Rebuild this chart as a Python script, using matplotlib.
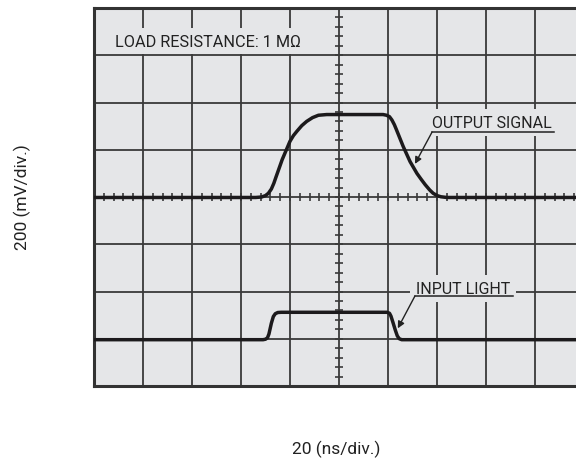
import matplotlib
matplotlib.use("Agg")
import matplotlib.pyplot as plt

# ---------- Trace data (x in time divisions, y in voltage divisions) ----------
output_x = [0.0, 3.30, 3.42, 3.50, 3.56, 3.62, 3.67, 3.71, 3.84, 4.00, 4.07,
            4.14, 4.24, 4.34, 4.46, 4.58, 4.75, 5.90, 5.97, 6.03, 6.08, 6.13,
            6.17, 6.31, 6.45, 6.59, 6.68, 6.76, 6.85, 6.92, 7.00, 7.08, 7.20, 10.5]
output_y = [3.99, 3.99, 4.00, 4.03, 4.08, 4.17, 4.29, 4.41, 4.79, 5.18, 5.30,
            5.39, 5.51, 5.60, 5.68, 5.73, 5.745, 5.745, 5.73, 5.70, 5.63, 5.53,
            5.43, 5.07, 4.75, 4.50, 4.37, 4.26, 4.15, 4.08, 4.03, 4.005, 3.99, 3.99]

input_x = [0.0, 3.45, 3.50, 3.54, 3.57, 3.62, 3.66, 3.70, 3.75, 3.82,
           5.98, 6.03, 6.06, 6.10, 6.15, 6.19, 6.23, 6.28, 10.5]
input_y = [0.98, 0.98, 0.99, 1.02, 1.10, 1.33, 1.47, 1.53, 1.555, 1.56,
           1.56, 1.54, 1.48, 1.35, 1.18, 1.06, 1.00, 0.98, 0.98]

N_XDIV, N_YDIV = 10, 8
X_LABEL = "20 (ns/div.)"
Y_LABEL = "200 (mV/div.)"
NOTE = "LOAD RESISTANCE: 1 MΩ"

BG = "#e5e6e8"
GRID = "#3a3a3a"
TRACE = "#1c1a1c"
INK = "#222222"

plt.rcParams["font.family"] = ["Roboto", "DejaVu Sans"]

fig = plt.figure(figsize=(5.76, 4.64), dpi=100)
# screen extends past the right edge of the figure
ax = fig.add_axes([94 / 576, 77 / 464, 490 / 576, 378 / 464])
ax.set_facecolor(BG)
ax.set_xlim(0, N_XDIV)
ax.set_ylim(0, N_YDIV)
ax.set_xticks(range(N_XDIV + 1))
ax.set_yticks(range(N_YDIV + 1))
ax.tick_params(length=0, labelbottom=False, labelleft=False)
ax.grid(True, color=GRID, linewidth=1.3)
for sp in ax.spines.values():
    sp.set_linewidth(2.2)
    sp.set_color("#333333")

# minor graticule ticks along the centre lines
cx, cy = N_XDIV / 2, N_YDIV / 2
sub_x = [i / 5 for i in range(N_XDIV * 5 + 1)]
sub_y = [i / 5 for i in range(N_YDIV * 5 + 1)]
ax.vlines(sub_x, cy - 0.085, cy + 0.085, color=GRID, linewidth=1.2, zorder=1)
ax.hlines(sub_y, cx - 0.08, cx + 0.08, color=GRID, linewidth=1.2, zorder=1)

ax.plot(output_x, output_y, color=TRACE, linewidth=2.5, solid_joinstyle="round",
        solid_capstyle="round", zorder=3)
ax.plot(input_x, input_y, color=TRACE, linewidth=2.5, solid_joinstyle="round",
        solid_capstyle="round", zorder=3)

box = dict(facecolor=BG, edgecolor="none", pad=4)

ax.text(0.43, 7.20, NOTE, fontsize=11.7, color=INK, va="baseline",
        ha="left", bbox=box, zorder=4)

# callout labels with underline and leader arrow
def callout(text, tx, ty, ux0, ux1, uy, tip):
    ax.text(tx, ty, text, fontsize=11.5, color=INK, ha="center",
            va="baseline", bbox=box, zorder=4)
    ax.plot([ux0, ux1], [uy, uy], color=INK, linewidth=1.1, zorder=5)
    ax.annotate("", xy=tip, xytext=(ux0, uy),
                arrowprops=dict(arrowstyle="-|>", color=INK, lw=1.0,
                                mutation_scale=10, shrinkA=0, shrinkB=0),
                zorder=5)

callout("OUTPUT SIGNAL", 8.13, 5.48, 6.90, 9.39, 5.376, (6.55, 4.70))
callout("INPUT LIGHT", 7.53, 1.97, 6.55, 8.55, 1.905, (6.20, 1.22))

fig.text(22 / 576, 1 - 197 / 464, Y_LABEL, rotation=90, fontsize=12.5,
         color=INK, ha="center", va="center")
fig.text(336 / 576, 1 - 449 / 464, X_LABEL, fontsize=12.5,
         color=INK, ha="center", va="center")

fig.savefig("out.png", dpi=100)
